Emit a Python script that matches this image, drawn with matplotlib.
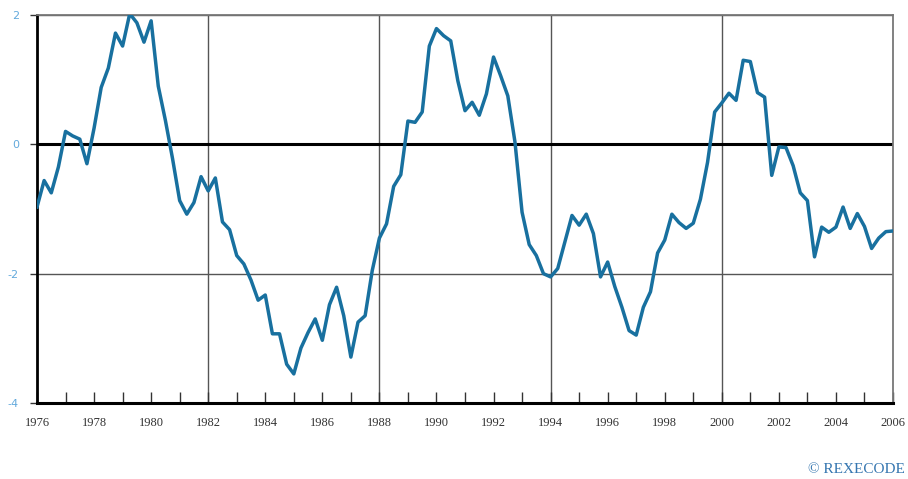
import numpy as np
import matplotlib
matplotlib.use("Agg")
import matplotlib.pyplot as plt
from matplotlib.ticker import MultipleLocator

# quarterly values, 1976Q1 .. 2006Q1
start_year = 1976
values = [
    -0.97, -0.56, -0.75, -0.35,   # 1976
    0.20, 0.13, 0.08, -0.30,      # 1977
    0.25, 0.88, 1.18, 1.72,       # 1978
    1.52, 2.02, 1.88, 1.58,       # 1979
    1.91, 0.90, 0.37, -0.22,      # 1980
    -0.87, -1.08, -0.90, -0.50,   # 1981
    -0.72, -0.52, -1.20, -1.32,   # 1982
    -1.72, -1.85, -2.10, -2.41,   # 1983
    -2.33, -2.93, -2.93, -3.40,   # 1984
    -3.55, -3.15, -2.91, -2.70,   # 1985
    -3.03, -2.48, -2.21, -2.65,   # 1986
    -3.29, -2.75, -2.65, -1.95,   # 1987
    -1.45, -1.23, -0.65, -0.47,   # 1988
    0.36, 0.34, 0.50, 1.52,       # 1989
    1.79, 1.68, 1.60, 0.98,       # 1990
    0.52, 0.65, 0.45, 0.78,       # 1991
    1.35, 1.06, 0.75, 0.04,       # 1992
    -1.05, -1.55, -1.72, -2.00,   # 1993
    -2.05, -1.92, -1.51, -1.10,   # 1994
    -1.25, -1.08, -1.38, -2.05,   # 1995
    -1.82, -2.20, -2.52, -2.88,   # 1996
    -2.95, -2.52, -2.28, -1.68,   # 1997
    -1.48, -1.08, -1.21, -1.30,   # 1998
    -1.22, -0.85, -0.28, 0.50,    # 1999
    0.64, 0.79, 0.68, 1.30,       # 2000
    1.28, 0.80, 0.73, -0.48,      # 2001
    -0.04, -0.05, -0.33, -0.75,   # 2002
    -0.87, -1.74, -1.28, -1.36,   # 2003
    -1.28, -0.97, -1.30, -1.07,   # 2004
    -1.27, -1.61, -1.45, -1.35,   # 2005
    -1.34,                        # 2006
]
dates = start_year + np.arange(len(values)) * 0.25

x_labels = list(range(1976, 2007, 2))
y_ticks = [-4, -2, 0, 2]
grid_years = [1982, 1988, 1994, 2000]

line_color = '#18709f'
ylab_color = '#62a9dc'

fig = plt.figure(figsize=(9.08, 4.79), dpi=100)
ax = fig.add_axes([37 / 908, 76 / 479, 856 / 908, 388 / 479])

# grid
for y in [-2, 2]:
    ax.axhline(y, color='#555555', lw=1.0, zorder=1)
for yr in grid_years:
    ax.axvline(yr, color='#555555', lw=1.0, zorder=1)
ax.axhline(0, color='black', lw=2.2, zorder=2)

ax.plot(dates, values, color=line_color, lw=2.5, zorder=3, solid_joinstyle='round')

ax.set_xlim(1976, 2006)
ax.set_ylim(-4, 2)

ax.spines['left'].set_linewidth(2.0)
ax.spines['bottom'].set_linewidth(2.2)
ax.spines['top'].set_color('#777777')
ax.spines['right'].set_color('#777777')
ax.spines['top'].set_linewidth(1.3)
ax.spines['right'].set_linewidth(1.3)

ax.set_yticks(y_ticks)
ax.set_yticklabels([str(v) for v in y_ticks], color=ylab_color, fontsize=8, family='DejaVu Sans')
ax.tick_params(axis='y', direction='out', length=5, width=1.0, color='#333333', pad=8)

ax.set_xticks(x_labels)
ax.set_xticklabels([str(v) for v in x_labels], fontsize=9, family='Liberation Serif', color='#333333')
ax.xaxis.set_minor_locator(MultipleLocator(1))
ax.tick_params(axis='x', which='both', direction='in', length=8, width=1.0, color='#333333', pad=10)

fig.text(0.997, 0.006, '\u00a9 REXECODE', ha='right', va='bottom', fontsize=11,
         family='Liberation Serif', color='#3576b0')

fig.savefig('out.png', dpi=100)
